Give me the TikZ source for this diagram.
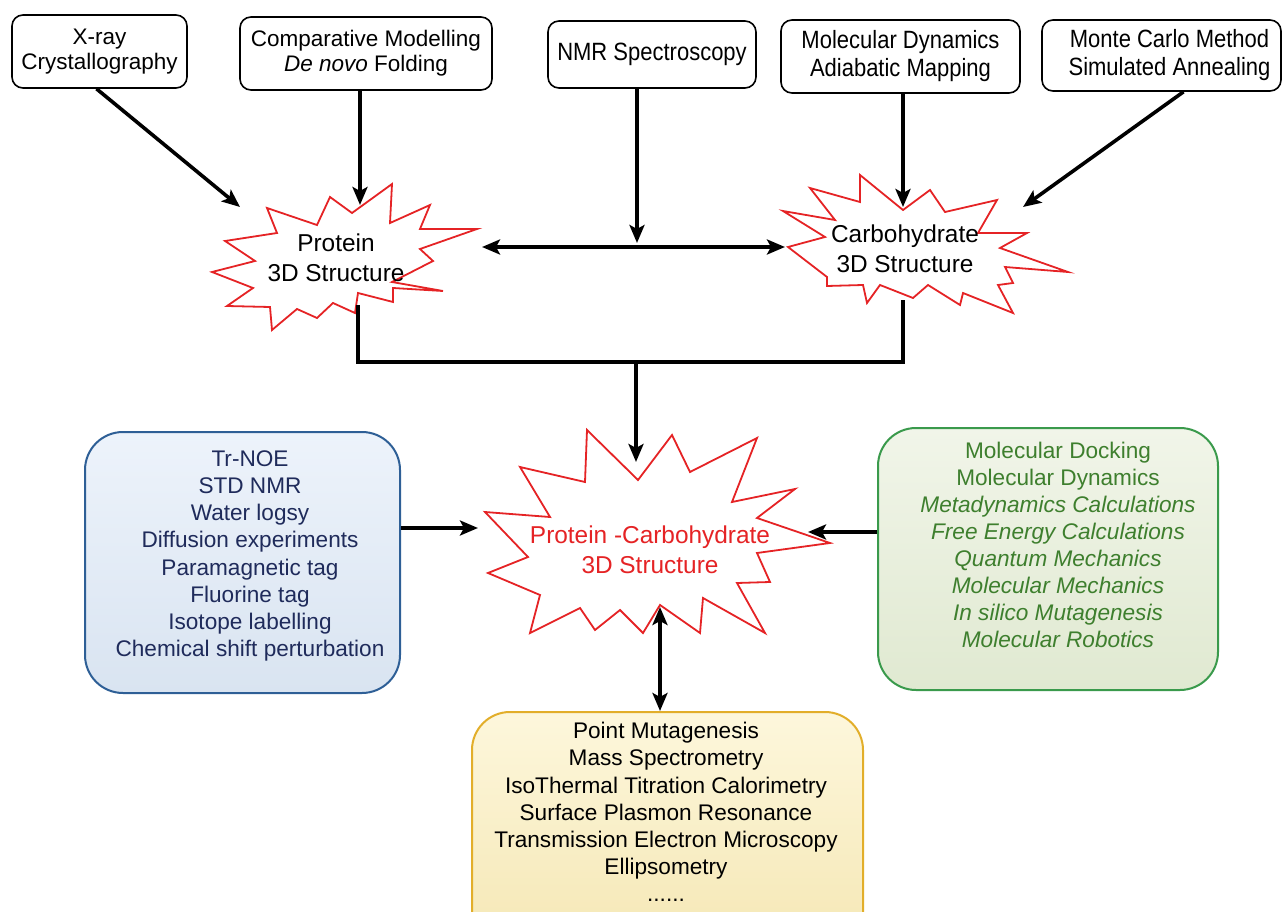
\documentclass[tikz,border=0pt]{standalone}
\usepackage{fontspec}
\setmainfont{Liberation Sans}
\newfontfamily\narrowsf[FakeStretch=0.88]{Liberation Sans}
\usetikzlibrary{arrows.meta}
\definecolor{starred}{HTML}{E52325}
\definecolor{bluefill}{HTML}{EDF3FB}
\definecolor{bluefillb}{HTML}{D9E4F1}
\definecolor{blueline}{HTML}{2E5F96}
\definecolor{bluetext}{HTML}{1F2B5B}
\definecolor{greenfill}{HTML}{F1F5E9}
\definecolor{greenfillb}{HTML}{E0E9D1}
\definecolor{greenline}{HTML}{3A9A4C}
\definecolor{greentext}{HTML}{3E7F2E}
\definecolor{yelfill}{HTML}{FDF7DC}
\definecolor{yelfillb}{HTML}{F5E7B4}
\definecolor{yelline}{HTML}{E2AE2A}
\tikzset{
  topbox/.style={draw=black, line width=1.6pt, rounded corners=11pt, fill=white,
    inner sep=0pt, align=center, font=\fontsize{22.5pt}{25pt}\selectfont},
  topnarrow/.style={topbox, font=\narrowsf\fontsize{25pt}{28pt}\selectfont},
  starline/.style={draw=starred, line width=1.8pt, fill=white, line join=miter},
  starlabel/.style={inner sep=0pt, align=center, font=\fontsize{24.4pt}{29.5pt}\selectfont},
  panel/.style={line width=2pt, rounded corners=38pt, inner sep=0pt},
  paneltext/.style={inner sep=0pt, align=center, font=\fontsize{22.6pt}{27.1pt}\selectfont},
  conn/.style={draw=black, line width=3.6pt},
  arr/.style={conn, -{Stealth[length=18pt,width=15pt,inset=4pt]}},
  darr/.style={conn, {Stealth[length=18pt,width=15pt,inset=4pt]}-{Stealth[length=18pt,width=15pt,inset=4pt]}}
}
\begin{document}
\begin{tikzpicture}[x=1pt,y=-1pt]
\useasboundingbox (0,0) rectangle (1283,912);
\clip (0,0) rectangle (1283,912);

% top boxes
\node[topbox, minimum width=175pt, minimum height=73pt] (xray) at (99.5,51.5) {X-ray\\Crystallography};
\node[topbox, minimum width=252pt, minimum height=73pt] (comp) at (366,53.5) {Comparative Modelling\\\textit{De novo} Folding};
\node[topnarrow, minimum width=208pt, minimum height=67pt] (nmr) at (652,54.5) {NMR Spectroscopy};
\node[topnarrow, minimum width=239pt, minimum height=73pt] (md) at (900.5,56.5) {Molecular Dynamics\\Adiabatic Mapping};
\node[topnarrow, minimum width=239pt, minimum height=71pt, inner xsep=0pt] (mc) at (1161.5,55.5) {\hspace*{16pt}Monte Carlo Method\\\hspace*{16pt}Simulated Annealing};

% starbursts
\draw[starline] (330,197) -- (352,213) -- (392,184) -- (390,223) -- (430,205) -- (420,229)
  -- (477,229) -- (420,249) -- (433,261) -- (392,282) -- (443,291) -- (393,288)
  -- (393,302) -- (358,293) -- (355,313) -- (333,303) -- (317,318) -- (297,309)
  -- (272,330) -- (270,307) -- (227,306) -- (253,288) -- (212,272) -- (255,261)
  -- (225,241) -- (277,233) -- (267,208) -- (317,225) -- cycle;
\draw[starline] (860,175) -- (903,210) -- (930,190) -- (945,212) -- (997,200) -- (978,233)
  -- (1027,233) -- (1000,248) -- (1068,272) -- (1005,267) -- (1013,283) -- (998,285)
  -- (1013,313) -- (963,293) -- (960,305) -- (928,285) -- (913,298) -- (880,285)
  -- (867,303) -- (863,285) -- (827,286) -- (827,277) -- (788,247) -- (825,237)
  -- (783,211) -- (835,220) -- (810,188) -- (860,202) -- cycle;
\draw[starline] (587,430) -- (638,480) -- (672,435) -- (690,472) -- (757,438) -- (732,502)
  -- (795,489) -- (757,518) -- (830,543) -- (757,553) -- (770,582) -- (737,583)
  -- (765,633) -- (703,598) -- (700,633) -- (660,605) -- (643,633) -- (620,610)
  -- (595,630) -- (580,608) -- (530,633) -- (540,595) -- (488,573) -- (528,557)
  -- (485,512) -- (550,517) -- (520,467) -- (585,482) -- cycle;

\node[starlabel] (prot) at (336,258) {Protein\\3D Structure};
\node[starlabel] (carb) at (905,249) {Carbohydrate\\3D Structure};
\node[starlabel, text=starred] (pc) at (650,550) {Protein -Carbohydrate\\3D Structure};

% panels
\node[panel, draw=blueline, top color=bluefill, bottom color=bluefillb,
  minimum width=315pt, minimum height=261pt] (lb) at (242.5,562.5) {};
\node[paneltext, text=bluetext] (lbt) at (250,556) {Tr-NOE\\STD NMR\\Water logsy\\Diffusion experiments\\Paramagnetic tag\\Fluorine tag\\Isotope labelling\\Chemical shift perturbation};

\node[panel, draw=greenline, top color=greenfill, bottom color=greenfillb,
  minimum width=340pt, minimum height=262pt] (rb) at (1048,559) {};
\node[paneltext, text=greentext] (rbt) at (1058,545) {Molecular Docking\\Molecular Dynamics\\\textit{Metadynamics Calculations}\\\textit{Free Energy Calculations}\\\textit{Quantum Mechanics}\\\textit{Molecular Mechanics}\\\textit{In silico Mutagenesis}\\\textit{Molecular Robotics}};

\node[panel, draw=yelline, top color=yelfill, bottom color=yelfillb,
  minimum width=391pt, minimum height=240pt] (yb) at (667.5,832) {};
\node[paneltext, text=black] (ybt) at (666,812) {Point Mutagenesis\\Mass Spectrometry\\IsoThermal Titration Calorimetry\\Surface Plasmon Resonance\\Transmission Electron Microscopy\\Ellipsometry\\......};

% connector end points
\coordinate (pA) at (240,207);
\coordinate (pB) at (360,205);
\coordinate (pC) at (637,243);
\coordinate (pL) at (482,247);
\coordinate (pR) at (785,247);
\coordinate (pD) at (903,207);
\coordinate (pE) at (1023,207);
\coordinate (pF) at (358,305);
\coordinate (pG) at (903,300);
\coordinate (mL) at (358,362);
\coordinate (mR) at (903,362);
\coordinate (mM) at (636,362);
\coordinate (pI) at (636,462);
\coordinate (qL) at (478,528);
\coordinate (qR) at (808,532);
\coordinate (qB) at (660,607);

% connectors
\draw[arr] ([xshift=-3pt]xray.south) -- (pA);
\draw[arr] (comp.south -| pB) -- (pB);
\draw[arr] (nmr.south -| pC) -- (pC);
\draw[darr] (pL) -- (pR);
\draw[arr] (md.south -| pD) -- (pD);
\draw[arr] ([xshift=22pt]mc.south) -- (pE);
\draw[conn, line join=miter] (pF) -- (mL) -- (mR) -- (pG);
\draw[arr] (mM) -- (pI);
\draw[arr] (lb.east |- qL) -- (qL);
\draw[arr] (rb.west |- qR) -- (qR);
\draw[darr] (qB) -- (yb.north -| qB);
\end{tikzpicture}
\end{document}
